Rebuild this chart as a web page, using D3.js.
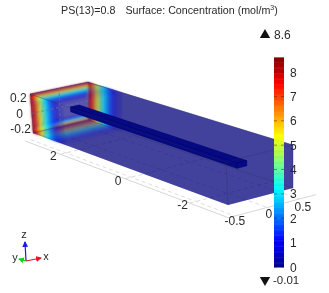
<!DOCTYPE html>
<html>
<head>
<meta charset="utf-8">
<script src="https://cdn.jsdelivr.net/npm/d3@7"></script>
<style>
body { margin: 0; background: #fff; }
text { font-family: "Liberation Sans", Arial, sans-serif; fill: #2a2a2a; }
</style>
</head>
<body>
<div id="my_dataviz"></div>
<script>
const colorTicks = [0, 1, 2, 3, 4, 5, 6, 7, 8];
const colorMin = -0.01, colorMax = 8.6;
const jetStops = [-0.01, 1.07, 3.2, 5.37, 7.5, 8.6];
const jetColors = ["#00008f", "#0000ff", "#00ffff", "#ffff00", "#ff0000", "#800000"];

const xTicks = [-0.5, 0, 0.5];
const yTicks = [2, 0, -2];
const zTicks = [-0.2, 0, 0.2];

// concentration read going inward from the hot end / rim
const rimDist = [0, 0.04, 0.08, 0.12, 0.16, 0.2, 0.24, 0.28, 0.32, 0.36, 0.4, 0.44, 0.48, 0.53, 0.58, 0.64, 0.7, 0.78, 0.88, 1.0];
const rimConc = [8.4, 8.0, 7.5, 7.0, 6.5, 6.0, 5.5, 5.0, 4.5, 4.0, 3.6, 3.2, 2.8, 2.4, 2.0, 1.6, 1.2, 0.8, 0.5, 0.2];

const barX = [-0.07, 0.08];
const barY = [2.55, -2.45];
const barZ = [0.02, 0.08];

const width = 329, height = 293;

const svg = d3.select("#my_dataviz").append("svg")
  .attr("width", width).attr("height", height)
  .style("display", "block")
  .style("filter", "blur(0.4px)");

const defs = svg.append("defs");
defs.append("filter").attr("id", "soft")
  .attr("x", "-10%").attr("y", "-10%").attr("width", "120%").attr("height", "120%")
  .append("feGaussianBlur").attr("stdDeviation", 0.8);

const jet = d3.scaleLinear().domain(jetStops).range(jetColors).interpolate(d3.interpolateRgb);

// box corners on screen, used for trilinear projection
const u = d3.scaleLinear().domain([-0.5, 0.5]).range([0, 1]);
const v = d3.scaleLinear().domain([3, -3]).range([0, 1]);
const w = d3.scaleLinear().domain([0.25, -0.25]).range([0, 1]);
const corners = {
  top: [[[30, 94], [226, 162]], [[88, 82], [293, 145]]],
  bot: [[[33, 133], [228, 205]], [[88, 120], [293, 188]]]
};
function project(x, y, z) {
  const a = u(x), b = v(y), c = w(z);
  const pick = (layer, k) =>
    (1 - a) * ((1 - b) * layer[0][0][k] + b * layer[0][1][k]) +
    a * ((1 - b) * layer[1][0][k] + b * layer[1][1][k]);
  return [0, 1].map(k => (1 - c) * pick(corners.top, k) + c * pick(corners.bot, k));
}
const quad = pts => d3.line()(pts.map(p => project(...p))) + "Z";

const floorZ = -0.35, floorX = -0.6, floorXEnd = 0.75, floorY0 = 3.1, floorY1 = -3.2;
const grid = svg.append("g").attr("fill", "none");

// floor grid, y axis and x axis lines
const floorLines = [
  [[floorX, floorY0, floorZ], [floorX, floorY1, floorZ]],
  [[floorX, floorY1, floorZ], [floorXEnd, floorY1, floorZ]]
];
grid.selectAll(".axisline").data(floorLines).join("path")
  .attr("class", "axisline")
  .attr("d", d => d3.line()(d.map(p => project(...p))))
  .attr("stroke", "#d6d6d6");
grid.selectAll(".ytick").data(yTicks).join("path")
  .attr("class", "ytick")
  .attr("d", d => d3.line()([project(floorX, d, floorZ), project(floorXEnd, d, floorZ)]))
  .attr("stroke", "#dadada")
  .attr("stroke-dasharray", "4 3");
grid.selectAll(".xtick").data(xTicks).join("path")
  .attr("class", "xtick")
  .attr("d", d => d3.line()([project(d, floorY0, floorZ), project(d, floorY1, floorZ)]))
  .attr("stroke", "#dedede")
  .attr("stroke-dasharray", "4 3");

const boxFill = "#00007c";
const faces = svg.append("g");

// far end wall, only one other wall covers it
faces.append("path")
  .attr("d", quad([[-0.5, 3, 0.25], [0.5, 3, 0.25], [0.5, 3, -0.25], [-0.5, 3, -0.25]]))
  .attr("fill", "#3a30b4").attr("fill-opacity", 0.45);

// back and bottom walls
faces.append("path")
  .attr("d", quad([[0.5, 3, 0.25], [0.5, -3, 0.25], [0.5, -3, -0.25], [0.5, 3, -0.25]]))
  .attr("fill", boxFill).attr("fill-opacity", 0.5);
faces.append("path")
  .attr("d", quad([[-0.5, 3, -0.25], [0.5, 3, -0.25], [0.5, -3, -0.25], [-0.5, -3, -0.25]]))
  .attr("fill", boxFill).attr("fill-opacity", 0.5);

// top, front and near walls
const over = svg.append("g");
over.append("path")
  .attr("d", quad([[-0.5, 3, 0.25], [0.5, 3, 0.25], [0.5, -3, 0.25], [-0.5, -3, 0.25]]))
  .attr("fill", boxFill).attr("fill-opacity", 0.48);
over.append("path")
  .attr("d", quad([[-0.5, 3, 0.25], [-0.5, -3, 0.25], [-0.5, -3, -0.25], [-0.5, 3, -0.25]]))
  .attr("fill", boxFill).attr("fill-opacity", 0.48);
over.append("path")
  .attr("d", quad([[-0.5, -3, 0.25], [0.5, -3, 0.25], [0.5, -3, -0.25], [-0.5, -3, -0.25]]))
  .attr("fill", boxFill).attr("fill-opacity", 0.48);

// hot rim on the walls
const heat = svg.append("g").attr("filter", "url(#soft)");
const strips = d3.range(rimDist.length - 1).map(i => ({
  d0: rimDist[i], d1: rimDist[i + 1], c: rimConc[i]
}));
const fade = (c, alpha) => c < 2 ? alpha * Math.max(c / 2, 0) : alpha;

// end wall rim, each ring inset towards the middle
function insetQuad(d) {
  const xl = d * 0.1, xr = d * 0.02, zt = d * 0.2, zb = d * 0.11;
  return quad([[-0.5 + xl, 3, 0.25 - zt], [0.5 - xr, 3, 0.25 - zt],
    [0.5 - xr, 3, -0.25 + zb], [-0.5 + xl, 3, -0.25 + zb]]);
}
heat.selectAll(".ring").data(strips).join("path")
  .attr("class", "ring")
  .attr("d", s => insetQuad(s.d0) + insetQuad(s.d1))
  .attr("fill-rule", "evenodd")
  .attr("fill", s => jet(s.c))
  .attr("fill-opacity", s => fade(s.c, 0.7));

function wallStrips(cls, pts, alpha) {
  heat.selectAll("." + cls).data(strips).join("path")
    .attr("class", cls)
    .attr("d", s => quad([pts(3 - s.d0)[0], pts(3 - s.d1)[0], pts(3 - s.d1)[1], pts(3 - s.d0)[1]]))
    .attr("fill", s => jet(s.c))
    .attr("fill-opacity", s => fade(s.c, alpha));
}
wallStrips("back", y => [[0.5, y, 0.25], [0.5, y, -0.25]], 0.7);
wallStrips("bottom", y => [[-0.5, y, -0.25], [0.5, y, -0.25]], 0.35);
wallStrips("top", y => [[-0.5, y, 0.25], [0.5, y, 0.25]], 0.2);
wallStrips("front", y => [[-0.5, y, 0.25], [-0.5, y, -0.25]], 0.8);

// channel bar, on top of the washes so it stays dark
const bar = svg.append("g");
const barFaces = [
  [[barX[0], barY[0], barZ[1]], [barX[1], barY[0], barZ[1]], [barX[1], barY[1], barZ[1]], [barX[0], barY[1], barZ[1]]],
  [[barX[0], barY[0], barZ[1]], [barX[0], barY[1], barZ[1]], [barX[0], barY[1], barZ[0]], [barX[0], barY[0], barZ[0]]],
  [[barX[0], barY[1], barZ[1]], [barX[1], barY[1], barZ[1]], [barX[1], barY[1], barZ[0]], [barX[0], barY[1], barZ[0]]]
];
bar.selectAll("path").data(barFaces).join("path")
  .attr("d", quad)
  .attr("fill", "#060a82")
  .attr("stroke", "#000070")
  .attr("stroke-width", 0.6);

// box edges
const edges = [
  [[-0.5, 3, 0.25], [-0.5, -3, 0.25]],
  [[-0.5, -3, 0.25], [0.5, -3, 0.25]],
  [[-0.5, -3, 0.25], [-0.5, -3, -0.25]],
  [[0.5, 3, 0.25], [0.5, -3, 0.25]],
  [[-0.5, 3, 0.25], [0.5, 3, 0.25]],
  [[0.5, -3, 0.25], [0.5, -3, -0.25]],
  [[0.5, 3, -0.25], [0.5, -3, -0.25]],
  [[-0.5, 3, -0.25], [0.5, 3, -0.25]]
];
svg.append("g").selectAll("path").data(edges).join("path")
  .attr("d", d => d3.line()(d.map(p => project(...p))))
  .attr("stroke", "#20205e")
  .attr("stroke-opacity", 0.5)
  .attr("stroke-width", 0.7)
  .attr("fill", "none");

// dashed grid seen on the far wall
const wall = svg.append("g").attr("fill", "none")
  .attr("stroke", "#6d6a9a").attr("stroke-width", 0.7).attr("stroke-dasharray", "3 2");
wall.append("path").attr("d", d3.line()([project(0, 3, 0.25), project(0, 3, -0.25)]));
wall.append("path").attr("d", d3.line()([project(-0.5, 3, 0), project(0.5, 3, 0)]));

// axis labels
const labels = svg.append("g").attr("font-size", 12);
labels.selectAll(".zl").data(zTicks).join("text")
  .attr("class", "zl")
  .attr("text-anchor", "middle")
  .attr("x", d => project(-0.5, 3, d)[0] - 12)
  .attr("y", d => project(-0.5, 3, d)[1] + 4)
  .text(d => d);
labels.selectAll(".yl").data(yTicks).join("text")
  .attr("class", "yl")
  .attr("text-anchor", "middle")
  .attr("x", d => project(floorX, d, floorZ)[0] - 7)
  .attr("y", d => project(floorX, d, floorZ)[1] + 6)
  .text(d => d);
labels.selectAll(".xl").data(xTicks).join("text")
  .attr("class", "xl")
  .attr("text-anchor", "middle")
  .attr("x", d => project(d, floorY1, floorZ)[0] + (d + 0.5) * 3)
  .attr("y", d => project(d, floorY1, floorZ)[1] + 9 + (d + 0.5) * 3)
  .text(d => d);

// title
const title = svg.append("text").attr("x", 61).attr("y", 14).attr("font-size", 10.7);
title.append("tspan").text("PS(13)=0.8");
title.append("tspan").attr("dx", 10).text("Surface: Concentration (mol/m");
title.append("tspan").attr("dy", -4).attr("font-size", 7).text("3");
title.append("tspan").attr("dy", 4).text(")");

// colour legend
const c = d3.scaleLinear().domain([0, 8]).range([267, 72]);
const legend = svg.append("g");
const slices = d3.range(0, colorMax, 0.05);
legend.selectAll(".slice").data(slices).join("rect")
  .attr("class", "slice")
  .attr("x", 274).attr("width", 10)
  .attr("y", d => c(d + 0.05)).attr("height", d => c(d) - c(d + 0.05) + 0.5)
  .attr("fill", d => jet(d));
legend.selectAll(".tickL").data(colorTicks).join("path")
  .attr("class", "tickL")
  .attr("d", d => `M274,${c(d)}h3M281,${c(d)}h3`)
  .attr("stroke", "#000").attr("stroke-opacity", 0.55).attr("stroke-width", 0.7);
legend.selectAll(".lab").data(colorTicks).join("text")
  .attr("class", "lab")
  .attr("x", 290).attr("y", d => c(d) + 4.5)
  .attr("font-size", 12)
  .text(d => d);

legend.append("path").attr("d", d3.symbol(d3.symbolTriangle, 46)()).attr("transform", "translate(265,35)").attr("fill", "#111");
legend.append("text").attr("x", 274).attr("y", 39).attr("font-size", 12).text(colorMax);
legend.append("path").attr("d", d3.symbol(d3.symbolTriangle, 46)()).attr("transform", "translate(265,280) rotate(180)").attr("fill", "#111");
legend.append("text").attr("x", 273).attr("y", 284).attr("font-size", 11.5).text(colorMin);

// orientation triad
const triad = [
  { name: "z", to: [25, 242], col: "#1a1aee", lab: [24, 238] },
  { name: "x", to: [41, 258], col: "#e81818", lab: [46, 260] },
  { name: "y", to: [19, 259], col: "#18d018", lab: [15, 261] }
];
const axes = svg.append("g");
defs.selectAll("marker").data(triad).join("marker")
  .attr("id", d => "head" + d.name)
  .attr("viewBox", "0 0 6 6").attr("refX", 5).attr("refY", 3)
  .attr("markerWidth", 5).attr("markerHeight", 5).attr("orient", "auto")
  .append("path").attr("d", "M0,0L6,3L0,6Z").attr("fill", d => d.col);
axes.selectAll("line").data(triad).join("line")
  .attr("x1", 26).attr("y1", 261)
  .attr("x2", d => d.to[0]).attr("y2", d => d.to[1])
  .attr("stroke", d => d.col).attr("stroke-width", 1.2)
  .attr("marker-end", d => `url(#head${d.name})`);
axes.selectAll("text").data(triad).join("text")
  .attr("x", d => d.lab[0]).attr("y", d => d.lab[1])
  .attr("text-anchor", "middle").attr("font-size", 11)
  .text(d => d.name);
</script>
</body>
</html>
